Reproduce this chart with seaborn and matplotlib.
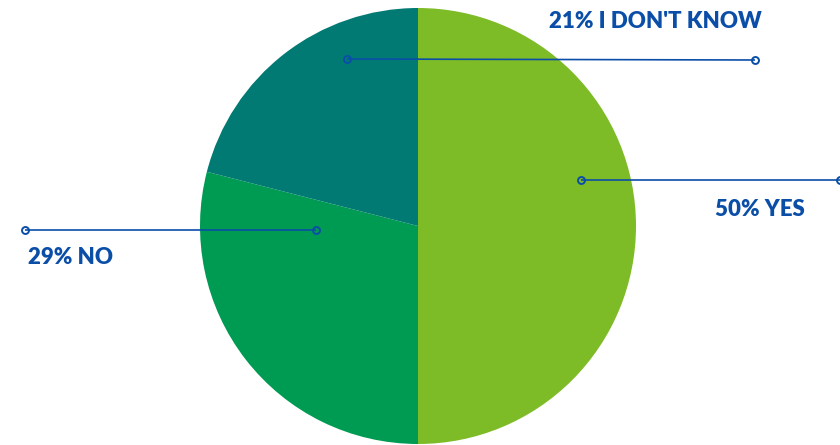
import matplotlib
matplotlib.use("Agg")
import matplotlib.pyplot as plt
import seaborn as sns

# survey answers, clockwise from 12 o'clock
answers = ["YES", "NO", "I DON'T KNOW"]
shares = [50, 29, 21]
colors = ["#7DBB27", "#009B52", "#007A72"]

LABEL_BLUE = "#0B4EA8"
W, H = 840, 445

sns.set_theme(style="white")
plt.rcParams["font.family"] = ["Lato", "DejaVu Sans"]

fig = plt.figure(figsize=(W / 100, H / 100), dpi=100)
ax = fig.add_axes([0, 0, 1, 1])

cx, cy, r = 418, H - 226, 218
ax.pie(shares, colors=colors, startangle=90, counterclock=False,
       center=(cx, cy), radius=r, frame=True,
       wedgeprops=dict(linewidth=0))
ax.set_xlim(0, W)
ax.set_ylim(0, H)
ax.set_aspect("equal")
ax.axis("off")

# leader lines (pixel positions, y measured from top) and label placement
leaders = {
    "YES": ((581, 180), (840, 180), (760, 210)),
    "NO": ((316, 230), (25, 230), (71, 257)),
    "I DON'T KNOW": ((347, 59), (755, 60), (655, 22)),
}
for name, pct in zip(answers, shares):
    (x0, y0), (x1, y1), (tx, ty) = leaders[name]
    ax.plot([x0, x1], [H - y0, H - y1], color=LABEL_BLUE, lw=1.2,
            marker="o", ms=5, mfc="none", mec=LABEL_BLUE, mew=1.4,
            solid_capstyle="butt", clip_on=False)
    ax.text(tx, H - ty, f"{pct}% {name}", color=LABEL_BLUE, fontsize=16,
            fontweight="heavy", ha="center", va="center")

fig.savefig("out.png", dpi=100)
plt.close(fig)
